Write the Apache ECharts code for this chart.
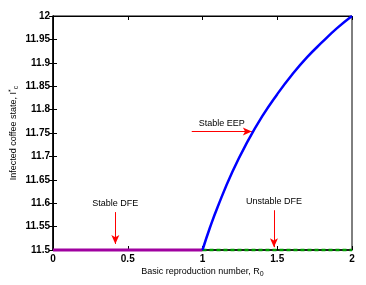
<!DOCTYPE html>
<html>
<head>
<meta charset="utf-8">
<script src="https://cdn.jsdelivr.net/npm/echarts@6/dist/echarts.min.js"></script>
<style>html,body{margin:0;padding:0;background:#fff}#c{width:366px;height:285px}</style>
</head>
<body>
<div id="c"></div>
<script>
// ---- data ----
const xTickValues = [0, 0.5, 1, 1.5, 2];
const stableDfeR = [0, 1];
const stableDfeI = [11.5, 11.5];
const unstableDfeR = [1, 2];
const unstableDfeI = [11.5, 11.5];
const eepR = [1, 1.05, 1.1, 1.2, 1.3, 1.4, 1.5, 1.6, 1.7, 1.8, 1.9, 2];
const eepI = [11.5, 11.548, 11.591, 11.667, 11.731, 11.786, 11.833, 11.875, 11.912, 11.944, 11.974, 12];
const annoText = ['Stable DFE', 'Unstable DFE', 'Stable EEP'];
const annoFrom = [[0.417, 11.581], [1.478, 11.585], [0.928, 11.753]];
const annoTo = [[0.417, 11.513], [1.478, 11.506], [1.33, 11.753]];
const annoPos = ['start', 'start', 'middle'];

const FONT = "'Liberation Sans', Arial, sans-serif";
const pairs = (xs, ys) => xs.map((x, i) => [x, ys[i]]);

const chart = echarts.init(document.getElementById('c'));
const axisCommon = {
  axisLine: {show: true, lineStyle: {color: '#000', width: 1.5}},
  axisTick: {show: true, inside: true, length: 4, lineStyle: {color: '#000'}},
  splitLine: {show: false}
};
chart.setOption({
  animation: false,
  grid: {left: 53, right: 14, top: 16, bottom: 35, show: true, borderColor: '#000', borderWidth: 1,
    containLabel: false, outerBoundsMode: 'none'},
  xAxis: [
    Object.assign({}, axisCommon, {
      type: 'value', min: 0, max: 2, interval: 0.5,
      name: 'Basic reproduction number, R{sub|0}',
      nameLocation: 'middle', nameGap: 15, nameMoveOverlap: false,
      nameTextStyle: {fontFamily: FONT, fontSize: 9, color: '#000',
        rich: {sub: {fontFamily: FONT, fontSize: 7, verticalAlign: 'bottom', padding: [6, 0, 0, 0]}}},
      axisLabel: {fontFamily: FONT, fontSize: 10, fontWeight: 'bold', color: '#000', margin: 4}
    }),
    Object.assign({}, axisCommon, {
      type: 'value', min: 0, max: 2, interval: 0.5, position: 'top',
      axisLine: {show: true, lineStyle: {color: '#000', width: 1}},
      axisLabel: {show: false}
    })
  ],
  yAxis: [
    Object.assign({}, axisCommon, {
      type: 'value', min: 11.5, max: 12, interval: 0.05,
      name: 'Infected coffee state, I{sup|*}{sub|c}',
      nameLocation: 'middle', nameGap: 33, nameRotate: 90, nameMoveOverlap: false,
      nameTextStyle: {fontFamily: FONT, fontSize: 9, color: '#000',
        rich: {sup: {fontFamily: FONT, fontSize: 7, padding: [0, 0, 5, 0]},
               sub: {fontFamily: FONT, fontSize: 7, padding: [5, 0, 0, 0]}}},
      axisLabel: {fontFamily: FONT, fontSize: 10, fontWeight: 'bold', color: '#000', margin: 3,
        formatter: v => String(parseFloat(v.toFixed(2)))}
    }),
    Object.assign({}, axisCommon, {
      type: 'value', min: 11.5, max: 12, interval: 0.05, position: 'right',
      axisLine: {show: true, lineStyle: {color: '#000', width: 1}},
      axisLabel: {show: false}
    })
  ],
  series: [
    {
      type: 'line', data: pairs(stableDfeR, stableDfeI), showSymbol: false, clip: false, z: 5,
      lineStyle: {color: '#a000a0', width: 3}
    },
    {
      type: 'line', data: pairs(unstableDfeR, unstableDfeI), showSymbol: false, clip: false, z: 5,
      lineStyle: {color: '#00a000', width: 2.5, type: [4, 3]}
    },
    {
      type: 'line', data: pairs(eepR, eepI), showSymbol: false, clip: false, smooth: true, z: 6,
      lineStyle: {color: '#0000ff', width: 2.5},
      markLine: {
        silent: true, animation: false,
        symbol: ['none', 'arrow'], symbolSize: [6, 9],
        lineStyle: {color: '#ff0000', width: 1, type: 'solid'},
        data: annoText.map((t, i) => [
          {coord: annoFrom[i], label: {show: true, formatter: t, position: annoPos[i],
            fontFamily: FONT, fontSize: 9, color: '#000', distance: 4}},
          {coord: annoTo[i]}
        ])
      }
    }
  ]
});
</script>
</body>
</html>
